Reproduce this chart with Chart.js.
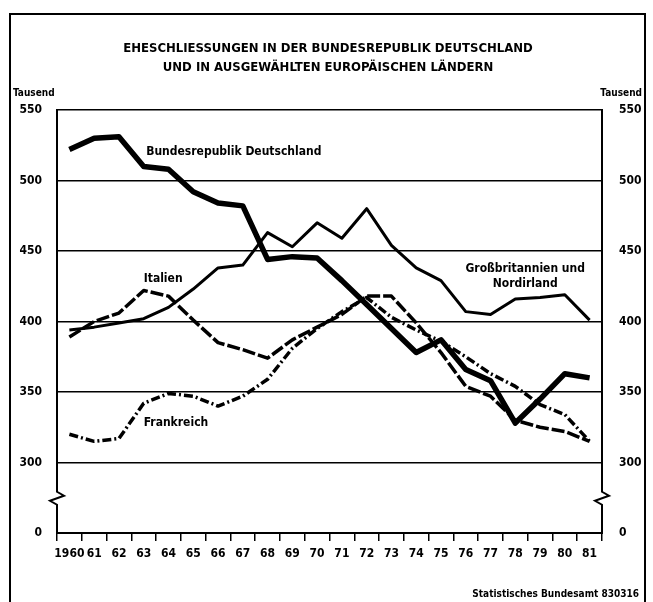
<!DOCTYPE html>
<html>
<head>
<meta charset="utf-8">
<script src="https://cdn.jsdelivr.net/npm/chart.js@4.4.0/dist/chart.umd.min.js"></script>
<style>
  html, body { margin: 0; padding: 0; background: #fff; }
</style>
</head>
<body>
<canvas id="chart" width="653" height="602"></canvas>
<script>
// Jahre (x-Achse)
const jahre = ['1960', '61', '62', '63', '64', '65', '66', '67', '68', '69', '70',
               '71', '72', '73', '74', '75', '76', '77', '78', '79', '80', '81'];
// Eheschliessungen in Tausend
const brd = [522, 530, 531, 510, 508, 492, 484, 482, 444, 446, 445, 429, 412, 395, 378, 387, 366, 358, 328, 345, 363, 360];
const grossbritannien = [394, 396, 399, 402, 410, 423, 438, 440, 463, 453, 470, 459, 480, 454, 438, 429, 407, 405, 416, 417, 419, 401];
const italien = [389, 400, 406, 422, 418, 401, 385, 380, 374, 387, 396, 405, 418, 418, 399, 378, 354, 347, 330, 325, 322, 315];
const frankreich = [320, 315, 317, 342, 349, 347, 340, 347, 359, 381, 395, 407, 417, 403, 394, 386, 375, 363, 354, 341, 334, 315];
// y-Achse: 250 steht fuer die unterbrochene Null
const yTicks = [250, 300, 350, 400, 450, 500, 550];

const FONT = "'Liberation Sans Narrow', 'DejaVu Sans Condensed', 'Arial Narrow', sans-serif";

function tickLabel(v) {
    return v === 250 ? '0' : String(v);
}

//Rahmen, Titel, Beschriftungen und Achsenbruch
const deko = {
    id: 'deko',
    afterDraw(chart) {
        const { ctx, chartArea: { left, right, top, bottom }, scales: { x, y } } = chart;
        ctx.save();
        // Rahmen
        ctx.strokeStyle = '#000';
        ctx.lineWidth = 2;
        ctx.beginPath();
        ctx.moveTo(10, 610);
        ctx.lineTo(10, 14);
        ctx.lineTo(645, 14);
        ctx.lineTo(645, 610);
        ctx.stroke();

        ctx.fillStyle = '#000';
        ctx.textAlign = 'center';
        ctx.textBaseline = 'middle';
        ctx.font = 'bold 13px ' + FONT;
        ctx.fillText('EHESCHLIESSUNGEN IN DER BUNDESREPUBLIK DEUTSCHLAND', 328, 49);
        ctx.fillText('UND IN AUSGEWÄHLTEN EUROPÄISCHEN LÄNDERN', 328, 68);

        ctx.font = 'bold 10px ' + FONT;
        ctx.textAlign = 'left';
        ctx.fillText('Tausend', 13, 93);
        ctx.textAlign = 'right';
        ctx.fillText('Tausend', 642, 93);
        ctx.fillText('Statistisches Bundesamt 830316', 639, 594);

        // Namen an den Linien
        ctx.font = 'bold 12px ' + FONT;
        ctx.textAlign = 'left';
        ctx.fillText('Bundesrepublik Deutschland', x.getPixelForValue(3.1), y.getPixelForValue(520));
        ctx.fillText('Italien', x.getPixelForValue(3.0), y.getPixelForValue(430));
        ctx.fillText('Frankreich', x.getPixelForValue(3.0), y.getPixelForValue(328));
        ctx.textAlign = 'center';
        ctx.fillText('Großbritannien und', x.getPixelForValue(18.4), y.getPixelForValue(437));
        ctx.fillText('Nordirland', x.getPixelForValue(18.4), y.getPixelForValue(427));

        // Achsenbruch
        const yb = y.getPixelForValue(275);
        [left, right].forEach(function (xa) {
            ctx.fillStyle = '#fff';
            ctx.fillRect(xa - 3, yb - 9, 6, 18);
            ctx.strokeStyle = '#000';
            ctx.lineWidth = 2;
            ctx.beginPath();
            ctx.moveTo(xa, yb - 10);
            ctx.lineTo(xa, yb - 6);
            ctx.lineTo(xa + 7, yb - 2);
            ctx.lineTo(xa - 7, yb + 3);
            ctx.lineTo(xa, yb + 7);
            ctx.lineTo(xa, yb + 10);
            ctx.stroke();
        });
        ctx.restore();
    }
};

const tickFont = { family: FONT, size: 12, weight: 'bold' };

const config = {
    type: 'line',
    data: {
        labels: jahre,
        datasets: [{
            label: 'Bundesrepublik Deutschland',
            data: brd,
            borderColor: '#000',
            borderWidth: 5.5,
        }, {
            label: 'Großbritannien und Nordirland',
            data: grossbritannien,
            borderColor: '#000',
            borderWidth: 3,
        }, {
            label: 'Italien',
            data: italien,
            borderColor: '#000',
            borderWidth: 3.5,
            borderDash: [13, 3],
        }, {
            label: 'Frankreich',
            data: frankreich,
            borderColor: '#000',
            borderWidth: 3.5,
            borderDash: [9, 3, 2, 3],
        }]
    },
    options: {
        responsive: false,
        animation: false,
        layout: { padding: { left: 13, right: 6, top: 110, bottom: 37 } },
        elements: {
            point: { radius: 0 },
            line: { tension: 0, borderJoinStyle: 'round', fill: false }
        },
        plugins: {
            legend: { display: false },
            tooltip: { enabled: false }
        },
        scales: {
            x: {
                offset: true,
                grid: { drawOnChartArea: false, drawTicks: true, tickLength: 8, color: '#000', lineWidth: 1.5, offset: true },
                border: { color: '#000', width: 2 },
                ticks: { color: '#000', font: tickFont, padding: 6, maxRotation: 0, autoSkip: false },
                afterFit(s) { s.height = 32; }
            },
            y: {
                position: 'left',
                min: 250,
                max: 550,
                afterBuildTicks(s) { s.ticks = yTicks.map(v => ({ value: v })); },
                ticks: { color: '#000', font: tickFont, padding: 15, callback: tickLabel },
                grid: { color: c => (c.tick && c.tick.value === 250) ? 'rgba(0,0,0,0)' : '#000', lineWidth: 1.6, drawTicks: false },
                border: { color: '#000', width: 2 },
                afterFit(s) { s.width = 44; }
            },
            y2: {
                position: 'right',
                min: 250,
                max: 550,
                afterBuildTicks(s) { s.ticks = yTicks.map(v => ({ value: v })); },
                ticks: { color: '#000', font: tickFont, padding: 9, callback: tickLabel },
                grid: { display: false },
                border: { color: '#000', width: 2 },
                afterFit(s) { s.width = 45; }
            }
        }
    },
    plugins: [deko]
};

var chart = document.getElementById('chart');
var myChart = new Chart(chart, config);
</script>
</body>
</html>
